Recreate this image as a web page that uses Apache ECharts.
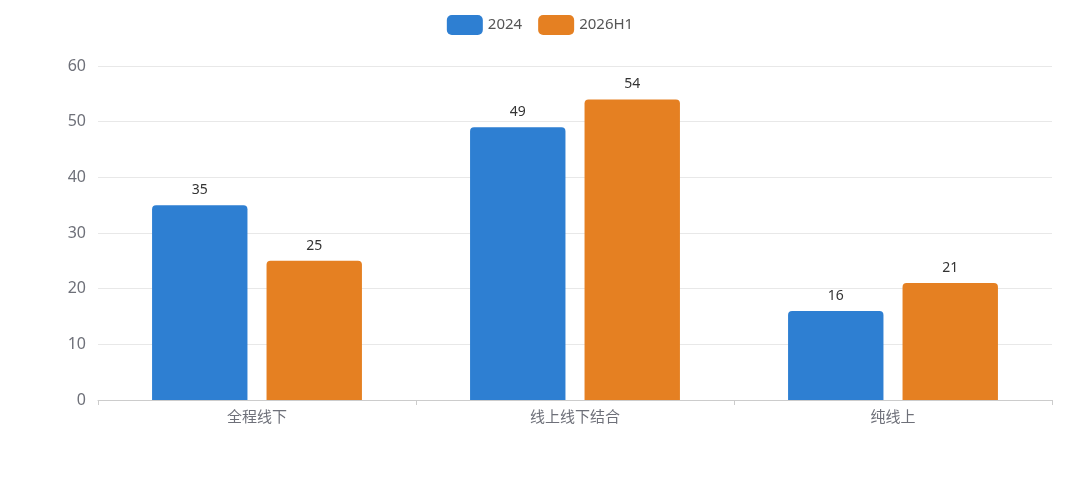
<!DOCTYPE html>
<html>
<head>
<meta charset="utf-8">
<script src="https://cdn.jsdelivr.net/npm/echarts@6/dist/echarts.min.js"></script>
<style>
  html, body { margin: 0; padding: 0; background: #fff; }
  #mainChart { width: 1080px; height: 487px; }
</style>
</head>
<body>
<div id="mainChart"></div>
<script>
var categories = ['全程线下', '线上线下结合', '纯线上'];
var seriesNames = ['2024', '2026H1'];
var values2024 = [35, 49, 16];
var values2026H1 = [25, 54, 21];
var yTicks = [0, 10, 20, 30, 40, 50, 60];

function chartInit() {
  var myChart = echarts.init(document.getElementById('mainChart'));
  var font = '"Noto Sans", "Noto Sans CJK SC", sans-serif';

  var option = {
    textStyle: { fontFamily: font },
    legend: {
      top: 10,
      left: 'center',
      itemWidth: 36,
      itemHeight: 20,
      itemGap: 16,
      icon: 'roundRect',
      textStyle: { fontSize: 15, color: '#555', fontFamily: font },
      data: seriesNames
    },
    grid: { left: 98, right: 28, top: 66, bottom: 87, containLabel: false },
    xAxis: {
      type: 'category',
      data: categories,
      axisLine: { lineStyle: { color: '#ccc' } },
      axisTick: { show: true, lineStyle: { color: '#ccc' } },
      axisLabel: { fontSize: 15, color: '#6e7079', margin: 10, fontFamily: font }
    },
    yAxis: {
      type: 'value',
      min: yTicks[0],
      max: yTicks[yTicks.length - 1],
      interval: 10,
      axisLine: { show: false },
      axisTick: { show: false },
      splitLine: { lineStyle: { color: '#e8e8e8' } },
      axisLabel: { fontSize: 16, color: '#6e7079', margin: 12, fontFamily: font }
    },
    series: [
      {
        name: seriesNames[0],
        type: 'bar',
        data: values2024,
        barWidth: '30%',
        barGap: '20%',
        itemStyle: { color: '#2e7fd2', borderRadius: [4, 4, 0, 0] },
        label: { show: true, position: 'top', fontSize: 14, color: '#333', distance: 8 }
      },
      {
        name: seriesNames[1],
        type: 'bar',
        data: values2026H1,
        barWidth: '30%',
        itemStyle: { color: '#e58022', borderRadius: [4, 4, 0, 0] },
        label: { show: true, position: 'top', fontSize: 14, color: '#333', distance: 8 }
      }
    ]
  };
  myChart.setOption(option);
}

chartInit();
</script>
</body>
</html>
